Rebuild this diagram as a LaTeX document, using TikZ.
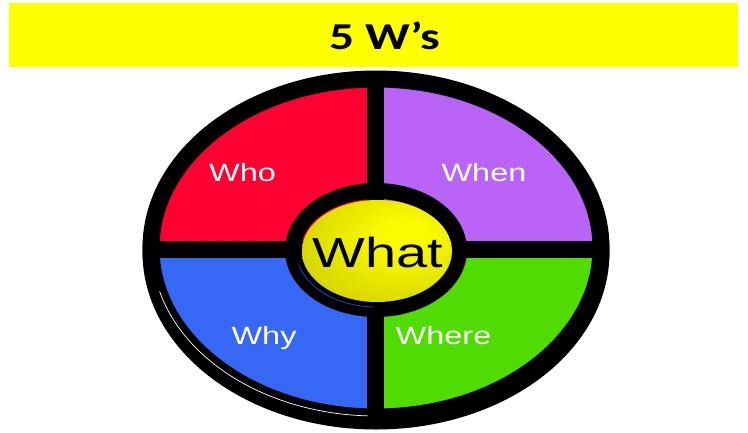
\documentclass[tikz,border=0pt]{standalone}
\usepackage{fontspec}
\setmainfont{Liberation Sans}
\newfontfamily\titlefont{Carlito}
\definecolor{bannerY}{HTML}{FFFF00}
\definecolor{whoC}{HTML}{FF0030}
\definecolor{whenC}{HTML}{B964F6}
\definecolor{whyC}{HTML}{3767F5}
\definecolor{whereC}{HTML}{50DC00}
\definecolor{whatIn}{RGB}{250,250,0}
\definecolor{whatOut}{RGB}{180,180,0}
\definecolor{ringBlue}{HTML}{3040C0}
\pgfdeclareradialshading{whatshade}{\pgfpoint{10bp}{8bp}}{%
  color(0bp)=(whatIn); color(8bp)=(whatIn); color(58bp)=(whatOut); color(100bp)=(whatOut)}
\tikzset{
  ring/.style={draw=black, line width=17pt},
  lbl/.style={text=white, font=\fontsize{25}{25}\selectfont, inner sep=0pt, anchor=base, xscale=1.3},
}
\begin{document}
\begin{tikzpicture}[x=1pt, y=-1pt]
\useasboundingbox (0,0) rectangle (748,432);
% banner
\fill[bannerY] (9,3) rectangle (738,67);
\node[font=\titlefont\bfseries\fontsize{38}{38}\selectfont, inner sep=0pt, anchor=base, xscale=1.3] (title) at (384.5,49) {5 W’s};
% shadow of the ring
\draw[ring] (376,252) ellipse [x radius=225pt, y radius=169pt];
% quadrants
\begin{scope}
\clip (376,248) ellipse [x radius=218pt, y radius=162pt];
\fill[whoC] (375,249) rectangle (140,70);
\fill[whenC] (375,249) rectangle (615,70);
\fill[whyC] (375,249) rectangle (140,430);
\fill[whereC] (375,249) rectangle (615,430);
\end{scope}
% outer ring and bars
\draw[ring] (376,248) ellipse [x radius=225pt, y radius=169pt];
\draw[ring] (375,72) -- (375,424);
\draw[ring] (143,249) -- (609,249);
\draw[white, line width=0.7pt] (376,248) ++(195:224pt and 168pt) arc[start angle=195, end angle=268, x radius=224pt, y radius=168pt];
% centre
\draw[draw=black, line width=16pt] (376,250) ellipse [x radius=83pt, y radius=59pt];
\draw[ringBlue, line width=0.8pt] (376,250) ++(195:80pt and 57pt) arc[start angle=195, end angle=268, x radius=80pt, y radius=57pt];
\shade[shading=whatshade] (377,251) ellipse [x radius=75pt, y radius=51pt];
% labels
\node[lbl] (who) at (242.5,181) {Who};
\node[lbl] (when) at (484,181) {When};
\node[lbl] (why) at (264,344) {Why};
\node[lbl] (where) at (443.5,344) {Where};
\node[font=\fontsize{42}{42}\selectfont, inner sep=0pt, anchor=base, xscale=1.33] (what) at (378,267) {What};
\end{tikzpicture}
\end{document}
